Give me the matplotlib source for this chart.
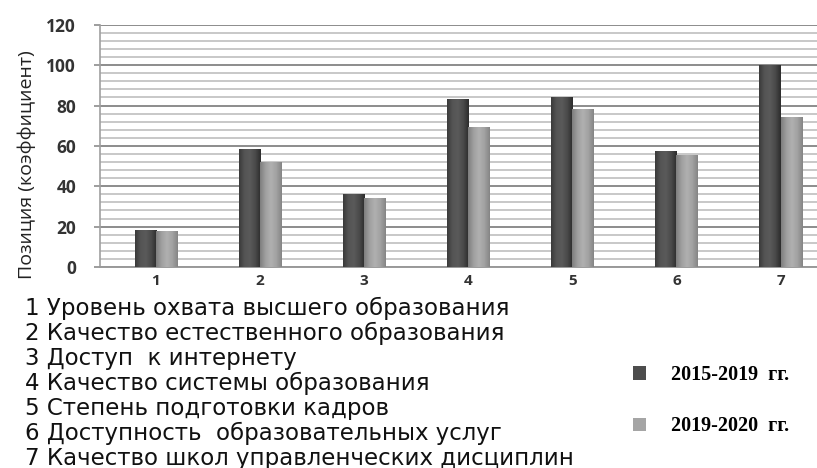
import matplotlib.pyplot as plt
import numpy as np
from matplotlib.ticker import MultipleLocator
from matplotlib.colors import LinearSegmentedColormap

plt.rcParams['font.family'] = ['Open Sans', 'DejaVu Sans']

categories = ['1', '2', '3', '4', '5', '6', '7']
series_2015_2019 = [18, 58, 36, 83, 84, 57, 100]
series_2019_2020 = [17.5, 52, 34, 69, 78, 55, 74]
legend_labels = ['2015-2019  гг.', '2019-2020  гг.']
descriptions = [
    '1 Уровень охвата высшего образования',
    '2 Качество естественного образования',
    '3 Доступ  к интернету',
    '4 Качество системы образования',
    '5 Степень подготовки кадров',
    '6 Доступность  образовательных услуг',
    '7 Качество школ управленческих дисциплин',
]

fig = plt.figure(figsize=(8.17, 4.68), dpi=100)
ax = fig.add_axes([0.122, 0.4295, 0.878, 0.5175])

x = np.arange(1, len(categories) + 1)
w = 0.205
dark_cmap = LinearSegmentedColormap.from_list('d', ['#3a3a3a', '#555555', '#5a5a5a', '#4a4a4a', '#2c2c2c'])
light_cmap = LinearSegmentedColormap.from_list('l', ['#7e7e7e', '#a0a0a0', '#b0b0b0', '#a2a2a2', '#858585'])
b1 = ax.bar(x - w / 2, series_2015_2019, w, color='#4d4d4d', linewidth=0, zorder=3)
b2 = ax.bar(x + w / 2, series_2019_2020, w, color='#a5a5a5', linewidth=0, zorder=3)


def shade(bars, cmap):
    # cylinder-like shading across each bar
    grad = np.linspace(0, 1, 64).reshape(1, -1)
    for r in bars:
        x0, w0, h0 = r.get_x(), r.get_width(), r.get_height()
        ax.imshow(grad, cmap=cmap, extent=(x0, x0 + w0, 0, h0), aspect='auto', zorder=3.5,
                  interpolation='bilinear')


shade(b1, dark_cmap)
shade(b2, light_cmap)

ax.set_xlim(0.46, 7.35)
ax.set_ylim(0, 120)
ax.yaxis.set_major_locator(MultipleLocator(20))
ax.yaxis.set_minor_locator(MultipleLocator(4))
ax.grid(which='major', axis='y', color='#8c8c8c', linewidth=1.4, zorder=0)
ax.grid(which='minor', axis='y', color='#c4c4c4', linewidth=1.3, zorder=0)
ax.set_axisbelow(True)
ax.set_xticks(x)
ax.set_xticklabels(categories)
ax.tick_params(axis='both', which='both', length=0, labelcolor='#333333')
ax.tick_params(axis='y', which='major', length=4, width=1.2, color='#8c8c8c', pad=13, labelsize=12.5)
ax.tick_params(axis='x', pad=5, labelsize=11)
for lab in ax.get_yticklabels() + ax.get_xticklabels():
    lab.set_fontweight('bold')
for s in ['top', 'right']:
    ax.spines[s].set_visible(False)
ax.spines['left'].set_color('#a0a0a0')
ax.spines['bottom'].set_color('#9a9a9a')
ax.spines['left'].set_linewidth(1.2)
ax.spines['bottom'].set_linewidth(1.4)

fig.text(27 / 817, 1 - 165 / 468, 'Позиция (коэффициент)', rotation=90, ha='center', va='center', fontsize=14,
         color='#222222')

for i, d in enumerate(descriptions):
    fig.text(25 / 817, 1 - (308 + i * 25) / 468, d, ha='left', va='center', fontsize=16.5, color='#111111',
             family='DejaVu Sans')

leg = fig.legend([b1, b2], legend_labels, loc='upper left', frameon=False,
                 prop={'family': 'Liberation Serif', 'weight': 'bold', 'size': 14.5},
                 labelspacing=1.55, handlelength=0.65, handleheight=0.65, handletextpad=1.2)
leg.set_bbox_to_anchor((0.753, 1 - 347 / 468), transform=fig.transFigure)

fig.savefig('out.png', dpi=100)
